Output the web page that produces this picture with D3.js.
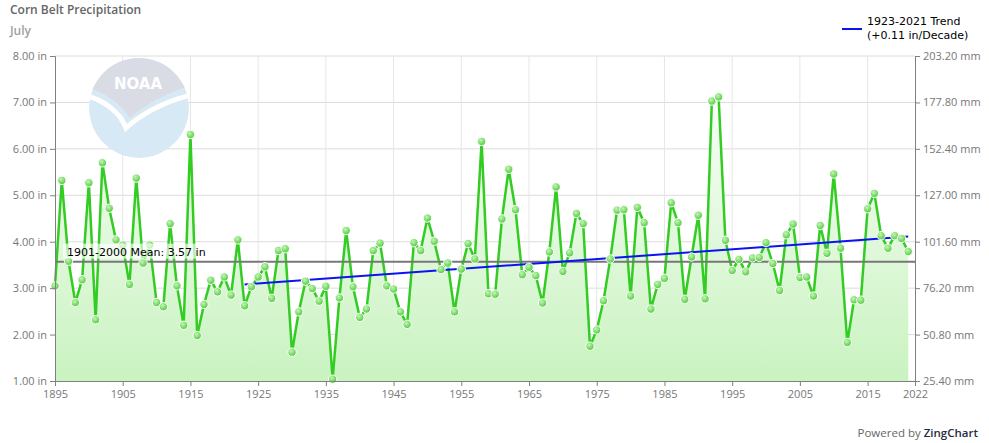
<html>
<head>
  <meta charset="utf-8">
  <title>Corn Belt Precipitation - July</title>
  <script src="https://d3js.org/d3.v7.min.js"></script>
  <style>
    body { margin: 0; background: #fff; }
    svg { display: block; }
    .tick text { font-family: 'Open Sans', sans-serif; font-size: 11px; fill: #777; }
  </style>
</head>
<body>
  <svg id="chart" width="989" height="443"></svg>
  <script>
    // July precipitation (in), one value per year from 1895
    var firstYear = 1895;
    var precip = [
      3.05, 5.32, 3.58, 2.69, 3.18, 5.27, 2.32, 5.70, 4.72, 4.04,
      3.93, 3.08, 5.37, 3.54, 3.93, 2.69, 2.60, 4.39, 3.05, 2.20,
      6.31, 1.98, 2.65, 3.17, 2.92, 3.24, 2.85, 4.04, 2.62, 3.03,
      3.24, 3.46, 2.78, 3.81, 3.85, 1.62, 2.49, 3.15, 2.99, 2.72,
      3.04, 1.04, 2.79, 4.24, 3.03, 2.37, 2.55, 3.81, 3.97, 3.05,
      2.98, 2.49, 2.22, 3.98, 3.81, 4.51, 4.01, 3.40, 3.54, 2.49,
      3.41, 3.96, 3.63, 6.16, 2.88, 2.87, 4.49, 5.56, 4.69, 3.29,
      3.45, 3.27, 2.68, 3.78, 5.18, 3.36, 3.76, 4.61, 4.39, 1.75,
      2.10, 2.73, 3.63, 4.68, 4.69, 2.83, 4.74, 4.41, 2.55, 3.08,
      3.21, 4.84, 4.41, 2.76, 3.67, 4.57, 2.77, 7.03, 7.12, 4.03,
      3.38, 3.62, 3.35, 3.65, 3.66, 3.98, 3.53, 2.95, 4.15, 4.38,
      3.23, 3.24, 2.83, 4.35, 3.75, 5.46, 3.86, 1.83, 2.75, 2.74,
      4.71, 5.04, 4.13, 3.86, 4.13, 4.07, 3.79
    ];
    var trendYears = [1923, 2021];
    var trendValues = [3.08, 4.11];
    var meanValue = 3.57;
    var xTicks = [1895, 1905, 1915, 1925, 1935, 1945, 1955, 1965, 1975, 1985, 1995, 2005, 2015, 2022];
    var yTicks = [1, 2, 3, 4, 5, 6, 7, 8];

    var data = precip.map(function (v, i) { return { year: firstYear + i, value: v }; });

    var svg = d3.select("#chart");
    var plotLeft = 55, plotRight = 915, plotTop = 56, plotBottom = 381;

    var x = d3.scaleLinear().domain([1895, 2022]).range([plotLeft, plotRight]);
    var y = d3.scaleLinear().domain([1, 8]).range([plotBottom, plotTop]);
    var yMm = d3.scaleLinear().domain([25.4, 203.2]).range([plotBottom, plotTop]);

    var defs = svg.append("defs");
    var areaGrad = defs.append("linearGradient").attr("id", "areaGrad")
      .attr("gradientUnits", "userSpaceOnUse")
      .attr("x1", 0).attr("y1", plotTop).attr("x2", 0).attr("y2", plotBottom);
    areaGrad.append("stop").attr("offset", "0%").attr("stop-color", "#ffffff");
    areaGrad.append("stop").attr("offset", "100%").attr("stop-color", "#c9f3c0");
    var dotGrad = defs.append("radialGradient").attr("id", "dotGrad")
      .attr("cx", "40%").attr("cy", "35%").attr("r", "65%");
    dotGrad.append("stop").attr("offset", "0%").attr("stop-color", "#c4f5b6");
    dotGrad.append("stop").attr("offset", "100%").attr("stop-color", "#4fcc3c");
    defs.append("clipPath").attr("id", "logoClip")
      .append("circle").attr("cx", 139).attr("cy", 108).attr("r", 50);

    // titles
    svg.append("text").attr("x", 10).attr("y", 14)
      .style("font-family", "'Open Sans', sans-serif").style("font-size", "12px")
      .style("font-weight", "600").style("fill", "#666").text("Corn Belt Precipitation");
    svg.append("text").attr("x", 10).attr("y", 35)
      .style("font-family", "'Open Sans', sans-serif").style("font-size", "12px")
      .style("font-weight", "600").style("fill", "#a0a0a0").text("July");

    // gridlines
    svg.append("g").selectAll("line").data(yTicks).enter().append("line")
      .attr("x1", plotLeft).attr("x2", plotRight)
      .attr("y1", function (d) { return y(d); }).attr("y2", function (d) { return y(d); })
      .style("stroke", "#dcdcdc").style("stroke-width", 1);
    svg.append("g").selectAll("line").data(xTicks.slice(1, -1)).enter().append("line")
      .attr("y1", plotTop).attr("y2", plotBottom)
      .attr("x1", function (d) { return x(d); }).attr("x2", function (d) { return x(d); })
      .style("stroke", "#e6e6e6").style("stroke-width", 1);

    // NOAA watermark
    var logo = svg.append("g").attr("clip-path", "url(#logoClip)");
    logo.append("circle").attr("cx", 139).attr("cy", 108).attr("r", 50).style("fill", "#d8e9f6");
    logo.append("path")
      .attr("d", "M80,86 C100,90 118,100 130,118 C148,102 170,92 195,84 L195,50 L80,50 Z")
      .style("fill", "#d9dce5");
    logo.append("path")
      .attr("d", "M84,95 C104,100 120,112 126,128 C146,110 170,100 195,94")
      .style("fill", "none").style("stroke", "#fff").style("stroke-width", 5);
    svg.append("text").attr("x", 138).attr("y", 89).attr("text-anchor", "middle")
      .style("font-family", "'DejaVu Sans', sans-serif").style("font-size", "15px")
      .style("font-weight", "bold").style("fill", "#fff").text("NOAA");

    // area + line
    var area = d3.area().x(function (d) { return x(d.year); })
      .y0(plotBottom).y1(function (d) { return y(d.value); });
    svg.append("path").datum(data).attr("d", area).style("fill", "url(#areaGrad)");

    var line = d3.line().x(function (d) { return x(d.year); }).y(function (d) { return y(d.value); });
    svg.append("path").datum(data).attr("d", line)
      .style("fill", "none").style("stroke", "#33cc22").style("stroke-width", 2.5);

    // mean line
    svg.append("line").attr("x1", plotLeft).attr("x2", plotRight)
      .attr("y1", y(meanValue)).attr("y2", y(meanValue))
      .style("stroke", "#777").style("stroke-width", 2);

    // trend line
    svg.append("line")
      .attr("x1", x(trendYears[0])).attr("y1", y(trendValues[0]))
      .attr("x2", x(trendYears[1])).attr("y2", y(trendValues[1]))
      .style("stroke", "#0a14f0").style("stroke-width", 2);

    // markers
    svg.append("g").selectAll("circle").data(data).enter().append("circle")
      .attr("cx", function (d) { return x(d.year); }).attr("cy", function (d) { return y(d.value); })
      .attr("r", 4.2).style("fill", "url(#dotGrad)").style("stroke", "#fff").style("stroke-width", 1);

    // mean label sits over the markers
    svg.append("rect").attr("x", 63).attr("y", y(meanValue) - 18).attr("width", 146).attr("height", 15)
      .style("fill", "#fff").style("opacity", 0.65);
    svg.append("text").attr("x", 67).attr("y", y(meanValue) - 6)
      .style("font-family", "'DejaVu Sans', sans-serif").style("font-size", "11px")
      .style("fill", "#000").text("1901-2000 Mean: 3.57 in");

    // axes
    var axisLeft = d3.axisLeft(y).tickValues(yTicks).tickSize(5).tickPadding(3)
      .tickFormat(function (d) { return d3.format(".2f")(d) + " in"; });
    var axisRight = d3.axisRight(yMm).tickValues(yTicks.map(function (d) { return d * 25.4; }))
      .tickSize(5).tickPadding(3).tickFormat(function (d) { return d3.format(".2f")(d) + " mm"; });
    var axisBottom = d3.axisBottom(x).tickValues(xTicks).tickSize(5).tickPadding(4)
      .tickFormat(d3.format("d"));

    [svg.append("g").attr("transform", "translate(" + plotLeft + ",0)").call(axisLeft),
     svg.append("g").attr("transform", "translate(" + plotRight + ",0)").call(axisRight),
     svg.append("g").attr("transform", "translate(0," + plotBottom + ")").call(axisBottom)]
      .forEach(function (g) {
        g.select(".domain").style("stroke", "#808080");
        g.selectAll(".tick line").style("stroke", "#808080");
      });

    // legend
    svg.append("line").attr("x1", 842).attr("x2", 862).attr("y1", 29).attr("y2", 29)
      .style("stroke", "#0a14f0").style("stroke-width", 2);
    svg.append("text").attr("x", 867).attr("y", 25)
      .style("font-family", "'DejaVu Sans', sans-serif").style("font-size", "11px")
      .style("fill", "#000").text("1923-2021 Trend");
    svg.append("text").attr("x", 867).attr("y", 39)
      .style("font-family", "'DejaVu Sans', sans-serif").style("font-size", "11px")
      .style("fill", "#000").text("(+0.11 in/Decade)");

    // credit
    var credit = svg.append("text").attr("x", 978).attr("y", 437).attr("text-anchor", "end")
      .style("font-family", "'Open Sans', sans-serif").style("font-size", "11.5px");
    credit.append("tspan").style("fill", "#666").text("Powered by ");
    credit.append("tspan").style("fill", "#1f2d3d").style("font-weight", "600").text("ZingChart");
  </script>
</body>
</html>
